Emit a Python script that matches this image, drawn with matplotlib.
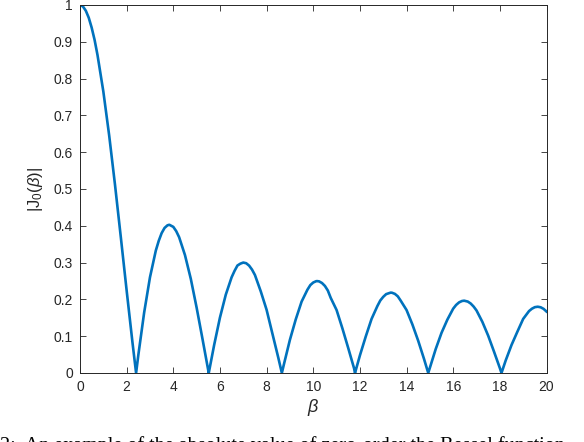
import matplotlib
matplotlib.use("Agg")
import matplotlib.pyplot as plt

# |J0(beta)|
beta = [0.0, 0.125, 0.25, 0.375, 0.5, 0.625, 0.75, 1.0, 1.25, 1.5, 1.75, 2.0, 2.25, 2.405,
        2.5, 2.75, 3.0, 3.25, 3.375, 3.5, 3.625, 3.75, 3.83, 4.0, 4.125, 4.25, 4.375, 4.5,
        4.75, 5.0, 5.25, 5.5, 5.52,
        5.75, 6.0, 6.25, 6.5, 6.625, 6.75, 6.875, 7.0, 7.125, 7.25, 7.375, 7.5, 7.75,
        8.0, 8.25, 8.5, 8.654,
        8.75, 9.0, 9.25, 9.5, 9.75, 9.875, 10.0, 10.125, 10.17, 10.25, 10.375, 10.5,
        10.625, 10.75, 11.0, 11.25, 11.5, 11.75, 11.79,
        12.0, 12.25, 12.5, 12.75, 12.875, 13.0, 13.125, 13.25, 13.32, 13.375, 13.5,
        13.625, 13.75, 14.0, 14.25, 14.5, 14.75, 14.93,
        15.0, 15.25, 15.5, 15.75, 16.0, 16.125, 16.25, 16.375, 16.47, 16.625, 16.75,
        16.875, 17.0, 17.25, 17.5, 17.75, 18.0, 18.07,
        18.25, 18.5, 18.75, 19.0, 19.25, 19.375, 19.5, 19.625, 19.75, 19.875, 20.0]
absJ0 = [1.0, 0.9961, 0.9844, 0.9654, 0.9385, 0.9053, 0.8642, 0.7652, 0.6459, 0.5118, 0.3690, 0.2239, 0.0827, 0.0,
         0.0484, 0.1641, 0.2601, 0.3326, 0.3590, 0.3801, 0.3942, 0.4013, 0.4028, 0.3971, 0.3855, 0.3690, 0.3448, 0.3205,
         0.2560, 0.1776, 0.0931, 0.0068, 0.0,
         0.0757, 0.1506, 0.2128, 0.2601, 0.2774, 0.2921, 0.2971, 0.3001, 0.2983, 0.2918, 0.2810, 0.2663, 0.2218,
         0.1717, 0.1067, 0.0419, 0.0,
         0.0256, 0.0903, 0.1457, 0.1939, 0.2263, 0.2389, 0.2459, 0.2495, 0.2497, 0.2490, 0.2445, 0.2366,
         0.2241, 0.2040, 0.1712, 0.1212, 0.0677, 0.0127, 0.0,
         0.0477, 0.0990, 0.1469, 0.1820, 0.1971, 0.2069, 0.2143, 0.2170, 0.2184, 0.2181, 0.2150,
         0.2083, 0.1965, 0.1711, 0.1320, 0.0875, 0.0380, 0.0,
         0.0142, 0.0650, 0.1092, 0.1450, 0.1749, 0.1849, 0.1918, 0.1956, 0.1965, 0.1941, 0.1888,
         0.1806, 0.1699, 0.1390, 0.1014, 0.0580, 0.0134, 0.0,
         0.0340, 0.0760, 0.1120, 0.1470, 0.1682, 0.1747, 0.1789, 0.1801, 0.1786, 0.1743, 0.1670]

xticks = [0, 2, 4, 6, 8, 10, 12, 14, 16, 18, 20]
yticks = [0, 0.1, 0.2, 0.3, 0.4, 0.5, 0.6, 0.7, 0.8, 0.9, 1]
ytick_labels = ["0", "0.1", "0.2", "0.3", "0.4", "0.5", "0.6", "0.7", "0.8", "0.9", "1"]
caption = "2:  An example of the absolute value of zero-order the Bessel function"

plt.rcParams['font.family'] = ['Liberation Sans', 'DejaVu Sans']
plt.rcParams['mathtext.fontset'] = 'custom'
plt.rcParams['mathtext.rm'] = 'Liberation Sans'
plt.rcParams['mathtext.it'] = 'Liberation Sans:italic'

axc = '#262626'
fig = plt.figure(figsize=(5.84, 4.42), dpi=100)
ax = fig.add_axes([80/584, 69/442, (546.5-80)/584, (373-5)/442])
ax.plot(beta, absJ0, color='#0072BD', lw=1.9, solid_joinstyle='round')
ax.set_xlim(0, 20)
ax.set_ylim(0, 1)
ax.set_xticks(xticks)
ax.set_xticklabels([str(t) for t in xticks])
ax.set_yticks(yticks)
ax.set_yticklabels(ytick_labels)
ax.tick_params(direction='in', top=True, right=True, length=4, width=0.6,
               colors=axc, labelsize=10, pad=5)
for s in ax.spines.values():
    s.set_color(axc)
    s.set_linewidth(0.7)
ax.set_xlabel(r'$\beta$', fontsize=13, color=axc, labelpad=2)
ax.set_ylabel(r'$|\mathrm{J}_0(\beta)|$', fontsize=12, color=axc, labelpad=6)

fig.text(0.0, 1 - 436/442, caption, family='Liberation Serif', fontsize=14.5,
         va='top', ha='left', color='black')

fig.savefig('out.png', dpi=100)
